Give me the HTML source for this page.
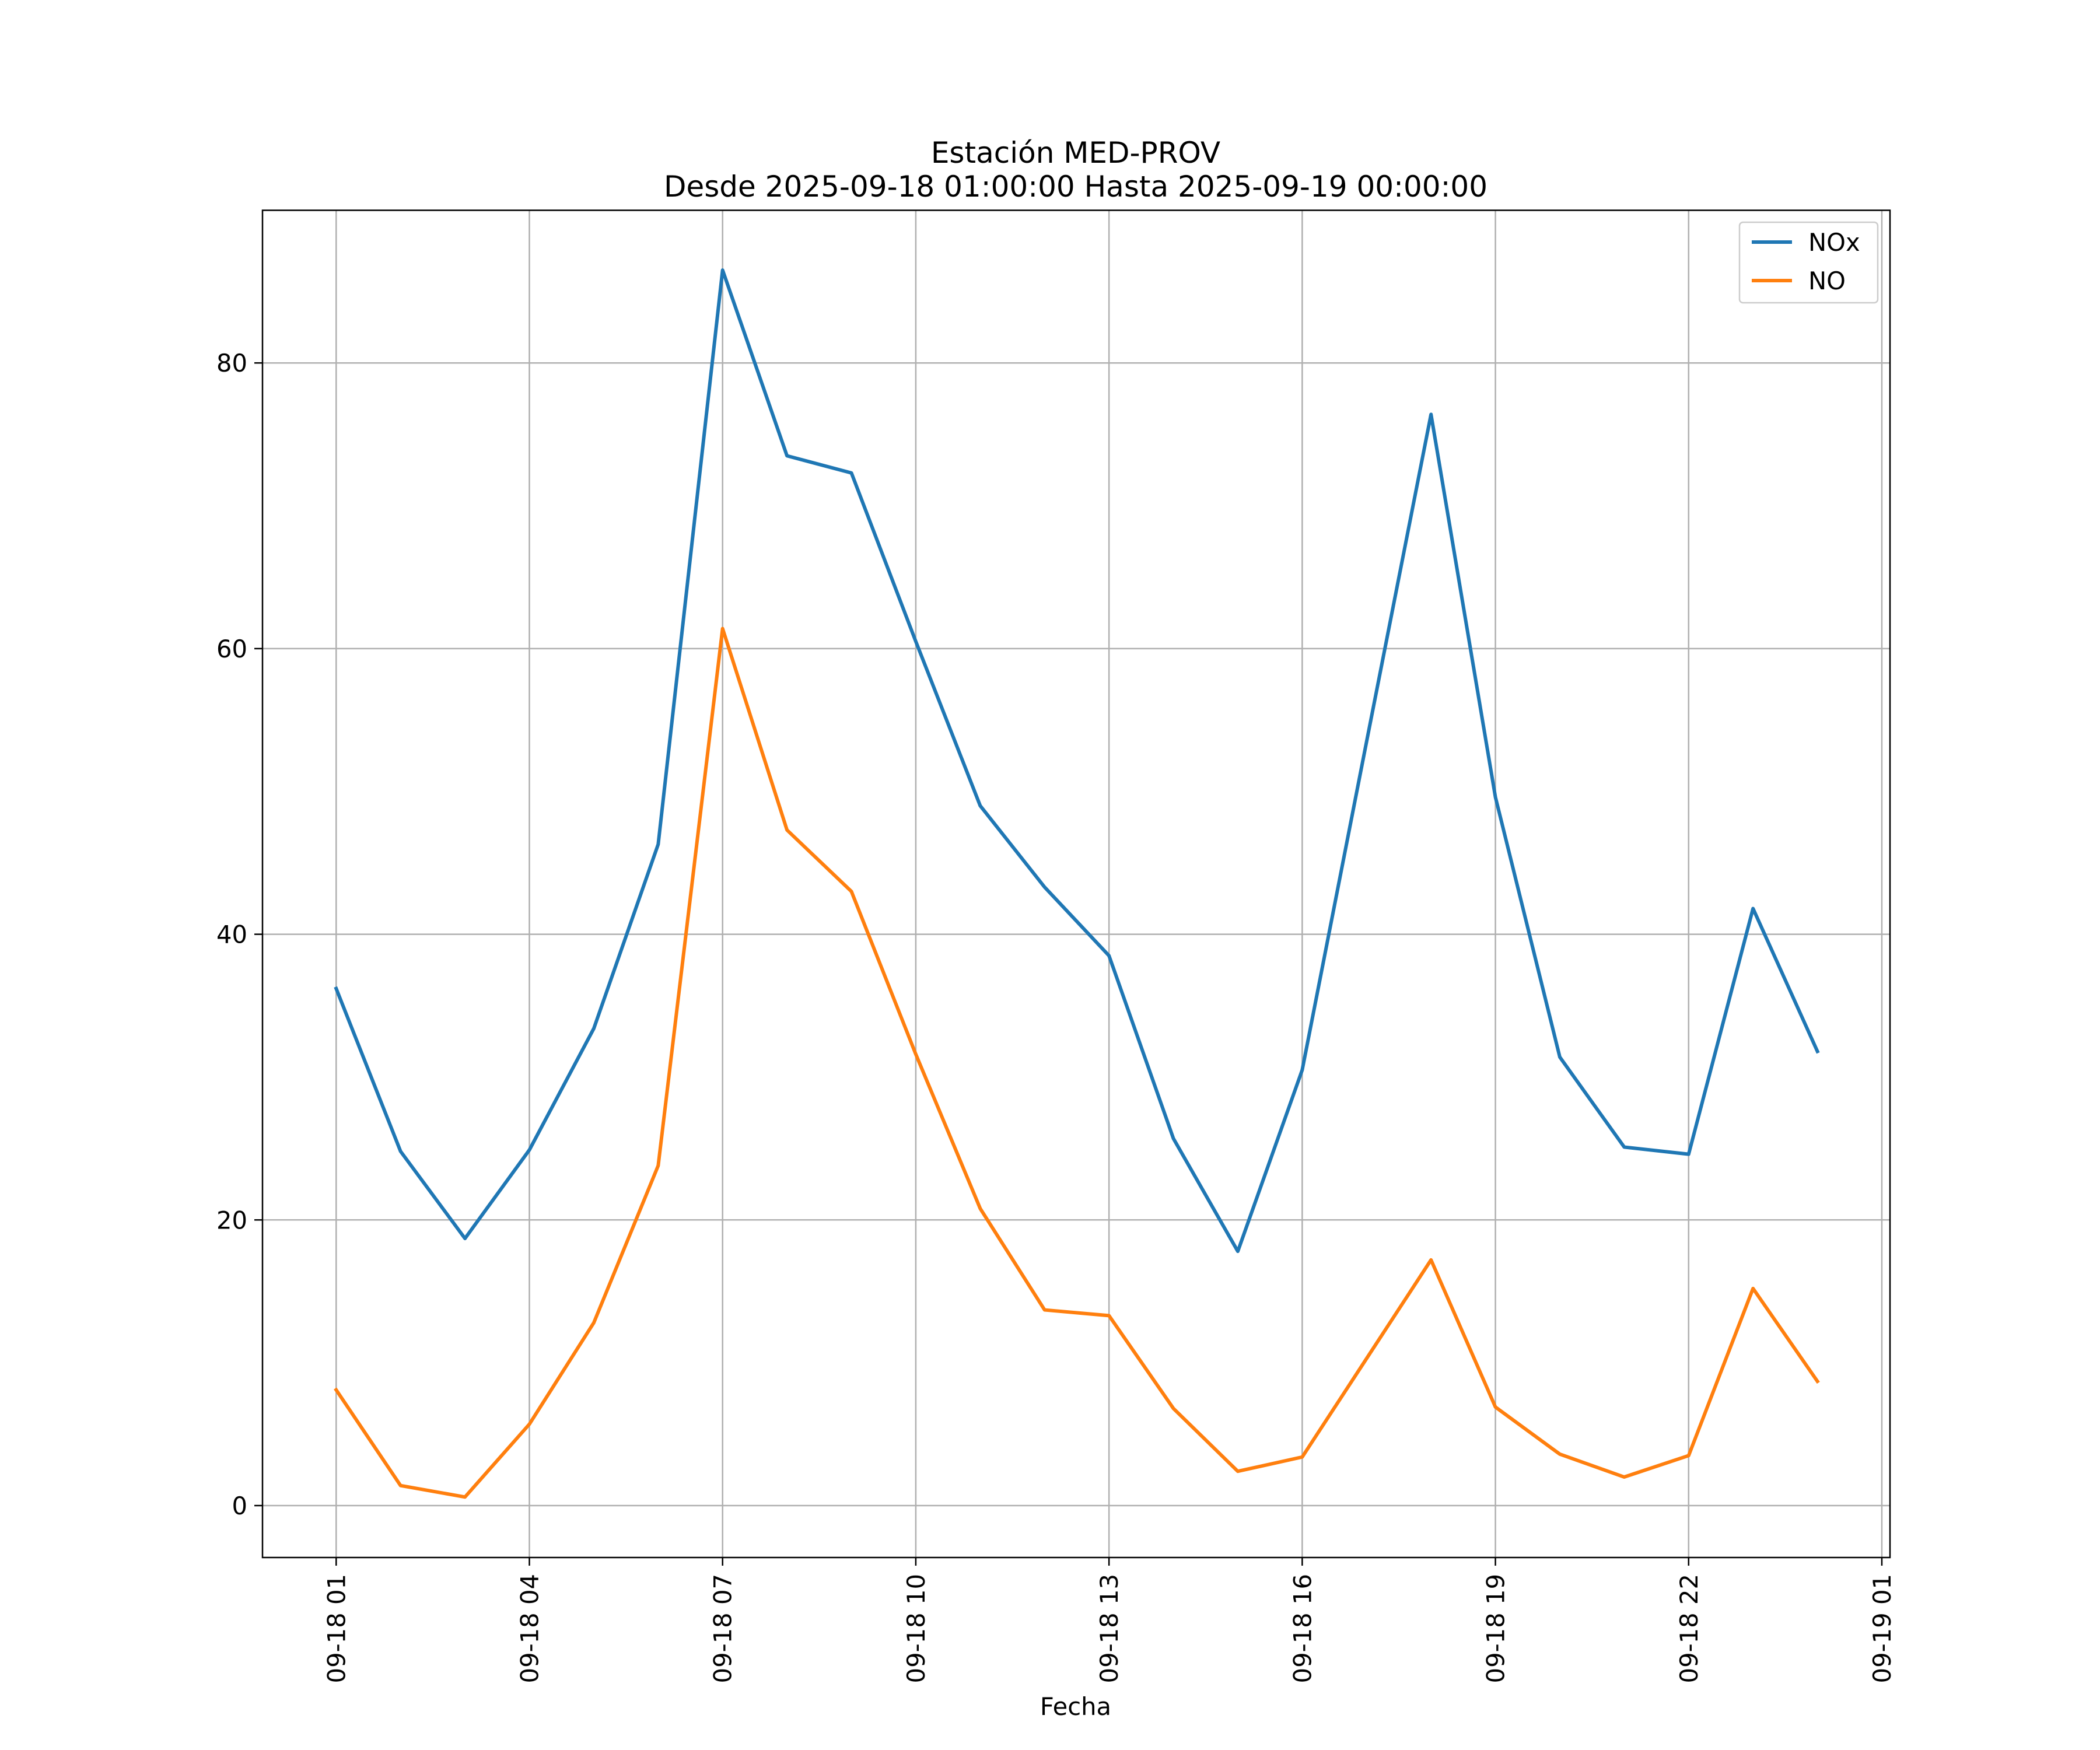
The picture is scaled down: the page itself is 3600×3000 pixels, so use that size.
<!DOCTYPE html>
<html><head><meta charset="utf-8"><style>html,body{margin:0;padding:0;background:#fff}svg{display:block}</style></head>
<body>
<svg id="chart" width="3600" height="3000" xmlns="http://www.w3.org/2000/svg" font-family="DejaVu Sans, Liberation Sans, sans-serif">
<rect width="3600" height="3000" fill="#fff"/>
<text x="1844" y="279" font-size="50" text-anchor="middle">Estación MED-PROV</text>
<text x="1844" y="337" font-size="50" text-anchor="middle">Desde 2025-09-18 01:00:00 Hasta 2025-09-19 00:00:00</text>
<g id="grid"></g>
<g id="series"></g>
<rect x="450" y="360.5" width="2790" height="2309.5" fill="none" stroke="#000" stroke-width="2.5"/>
<g id="axes"></g>
<text x="1844" y="2940" font-size="41.7" text-anchor="middle">Fecha</text>
<g>
<rect x="2982" y="381" width="237" height="138" rx="6" fill="#fff" fill-opacity="0.8" stroke="#ccc" stroke-width="2.5"/>
<line x1="3003" y1="415" x2="3072" y2="415" stroke="#1f77b4" stroke-width="6"/>
<text x="3100" y="430" font-size="41.7">NOx</text>
<line x1="3003" y1="481" x2="3072" y2="481" stroke="#ff7f0e" stroke-width="6"/>
<text x="3100" y="496" font-size="41.7">NO</text>
</g>
</svg>
<script>
const hours = [1,2,3,4,5,6,7,8,9,10,11,12,13,14,15,16,17,18,19,20,21,22,23,24];
const noxValues = [36.2,24.8,18.7,24.9,33.4,46.3,86.5,73.5,72.3,60.5,49.0,43.3,38.5,25.7,17.8,30.5,53.5,76.4,49.6,31.4,25.1,24.6,41.8,31.8];
const noValues = [8.1,1.4,0.6,5.7,12.8,23.8,61.4,47.3,43.0,31.6,20.8,13.7,13.3,6.8,2.4,3.4,10.3,17.2,6.9,3.6,2.0,3.5,15.2,8.7];
const yTicks = [0,20,40,60,80];
const xTickHours = [1,4,7,10,13,16,19,22,25];
const xTickLabels = ["09-18 01","09-18 04","09-18 07","09-18 10","09-18 13","09-18 16","09-18 19","09-18 22","09-19 01"];

const NS = "http://www.w3.org/2000/svg";
const X = h => 576.3 + (h - 1) * (3226 - 576.3) / 24;
const Y = v => 2581 - v * (2581 - 622.2) / 80;
function mk(tag, attrs, parent){const e=document.createElementNS(NS,tag);for(const k in attrs)e.setAttribute(k,attrs[k]);parent.appendChild(e);return e;}
const grid=document.getElementById('grid'), axes=document.getElementById('axes'), series=document.getElementById('series');
yTicks.forEach(v=>{
  const g=mk('line',{x1:450,x2:3240,y1:Y(v),y2:Y(v),stroke:'#b0b0b0','stroke-width':2.5},grid);
  
  
  mk('line',{x1:436,x2:450,y1:Y(v),y2:Y(v),stroke:'#000','stroke-width':2.5},axes);
  const t=mk('text',{x:424,y:Y(v)+15,'font-size':41.7,'text-anchor':'end'},axes);
  t.textContent=v;
  
  
});
xTickHours.forEach((h,i)=>{
  const g=mk('line',{x1:X(h),x2:X(h),y1:360.5,y2:2670,stroke:'#b0b0b0','stroke-width':2.5},grid);
  
  
  mk('line',{x1:X(h),x2:X(h),y1:2670,y2:2684,stroke:'#000','stroke-width':2.5},axes);
  const t=mk('text',{x:0,y:0,'font-size':41.7,'text-anchor':'end',transform:`translate(${X(h)+15},2698) rotate(-90)`},axes);
  t.textContent=xTickLabels[i];
  
  
});
function line(vals,color,name){
  const p=mk('polyline',{points:vals.map((v,i)=>X(hours[i])+','+Y(v)).join(' '),fill:'none',stroke:color,'stroke-width':6,'stroke-linejoin':'round','stroke-linecap':'square'},series);
  
  
}
line(noxValues,'#1f77b4','nox-line');
line(noValues,'#ff7f0e','no-line');
</script>
</body></html>
